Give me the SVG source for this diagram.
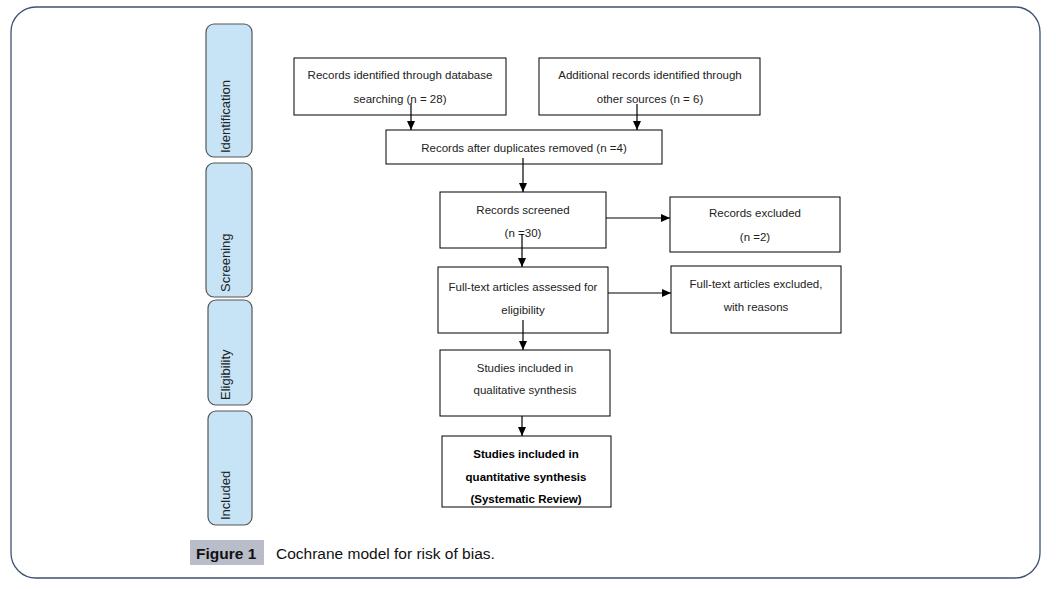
<svg xmlns="http://www.w3.org/2000/svg" width="1056" height="589" viewBox="0 0 1056 589">
<defs>
<marker id="ah" markerWidth="10" markerHeight="10" refX="9" refY="5" orient="auto" markerUnits="userSpaceOnUse">
<path d="M0,1 L9,5 L0,9 Z" fill="#000"/>
</marker>
<style>
.frame{fill:#fff;stroke:#3d5272;stroke-width:1.3}
.side{fill:#c7e4f6;stroke:#555;stroke-width:1.2}
.box{fill:#fff;stroke:#000;stroke-width:1}
.t{font-family:"Liberation Sans",Arial,sans-serif;font-size:11.5px;fill:#222;text-anchor:middle}
.tb{font-family:"Liberation Sans",Arial,sans-serif;font-size:11.5px;fill:#000;text-anchor:middle;font-weight:bold}
.st{font-family:"Liberation Sans",Arial,sans-serif;font-size:13px;fill:#222;text-anchor:start}
.c line{stroke:#000;stroke-width:1.2;marker-end:url(#ah)}
</style>
</defs>
<rect x="0" y="0" width="1056" height="589" fill="#fff"/>
<rect class="frame" x="11" y="7" width="1029" height="571" rx="25"/>

<g id="side-identification"><rect class="side" x="206" y="24" width="46" height="133" rx="8"/><text class="st" transform="translate(230,153) rotate(-90)">Identification</text></g>
<g id="side-screening"><rect class="side" x="206" y="163" width="46" height="134" rx="8"/><text class="st" transform="translate(230,292) rotate(-90)">Screening</text></g>
<g id="side-eligibility"><rect class="side" x="208" y="300" width="44" height="105" rx="8"/><text class="st" transform="translate(230,400) rotate(-90)">Eligibility</text></g>
<g id="side-included"><rect class="side" x="208" y="411" width="44" height="114" rx="8"/><text class="st" transform="translate(230,520) rotate(-90)">Included</text></g>

<g id="n1"><rect class="box" x="294" y="58" width="212" height="57"/><text class="t" x="400" y="79">Records identified through database</text><text class="t" x="400" y="103">searching (n = 28)</text></g>
<g id="n2"><rect class="box" x="539" y="58" width="221" height="57"/><text class="t" x="650" y="79">Additional records identified through</text><text class="t" x="650" y="103">other sources (n = 6)</text></g>
<g id="n3"><rect class="box" x="386" y="130" width="276" height="34"/><text class="t" x="524" y="152">Records after duplicates removed (n =4)</text></g>
<g id="n4"><rect class="box" x="440" y="192" width="166" height="56"/><text class="t" x="523" y="214">Records screened</text><text class="t" x="523" y="237">(n =30)</text></g>
<g id="n5"><rect class="box" x="670" y="197" width="170" height="55"/><text class="t" x="755" y="217">Records excluded</text><text class="t" x="755" y="241">(n =2)</text></g>
<g id="n6"><rect class="box" x="438" y="267" width="170" height="66"/><text class="t" x="523" y="291">Full-text articles assessed for</text><text class="t" x="523" y="314">eligibility</text></g>
<g id="n7"><rect class="box" x="671" y="266" width="170" height="67"/><text class="t" x="756" y="288">Full-text articles excluded,</text><text class="t" x="756" y="311">with reasons</text></g>
<g id="n8"><rect class="box" x="440" y="350" width="170" height="66"/><text class="t" x="525" y="372">Studies included in</text><text class="t" x="525" y="394">qualitative synthesis</text></g>
<g id="n9"><rect class="box" x="442" y="436" width="169" height="71"/><text class="tb" x="526" y="458">Studies included in</text><text class="tb" x="526" y="481">quantitative synthesis</text><text class="tb" x="526" y="503">(Systematic Review)</text></g>

<g class="c" id="connectors">
<line x1="411" y1="103" x2="411" y2="130"/>
<line x1="637" y1="104" x2="637" y2="130"/>
<line x1="523" y1="158" x2="523" y2="192"/>
<line x1="522" y1="234" x2="522" y2="267"/>
<line x1="606" y1="218" x2="670" y2="218"/>
<line x1="608" y1="293" x2="671" y2="293"/>
<line x1="523" y1="320" x2="523" y2="350"/>
<line x1="522" y1="416" x2="522" y2="436"/>
</g>

<g id="caption">
<rect x="190" y="540" width="74" height="25" fill="#b9bdca"/>
<text x="196" y="559" font-family="'Liberation Sans',Arial,sans-serif" font-size="15.5" font-weight="bold" fill="#111">Figure 1</text>
<text x="276" y="559" font-family="'Liberation Sans',Arial,sans-serif" font-size="15.5" fill="#111">Cochrane model for risk of bias.</text>
</g>
</svg>
